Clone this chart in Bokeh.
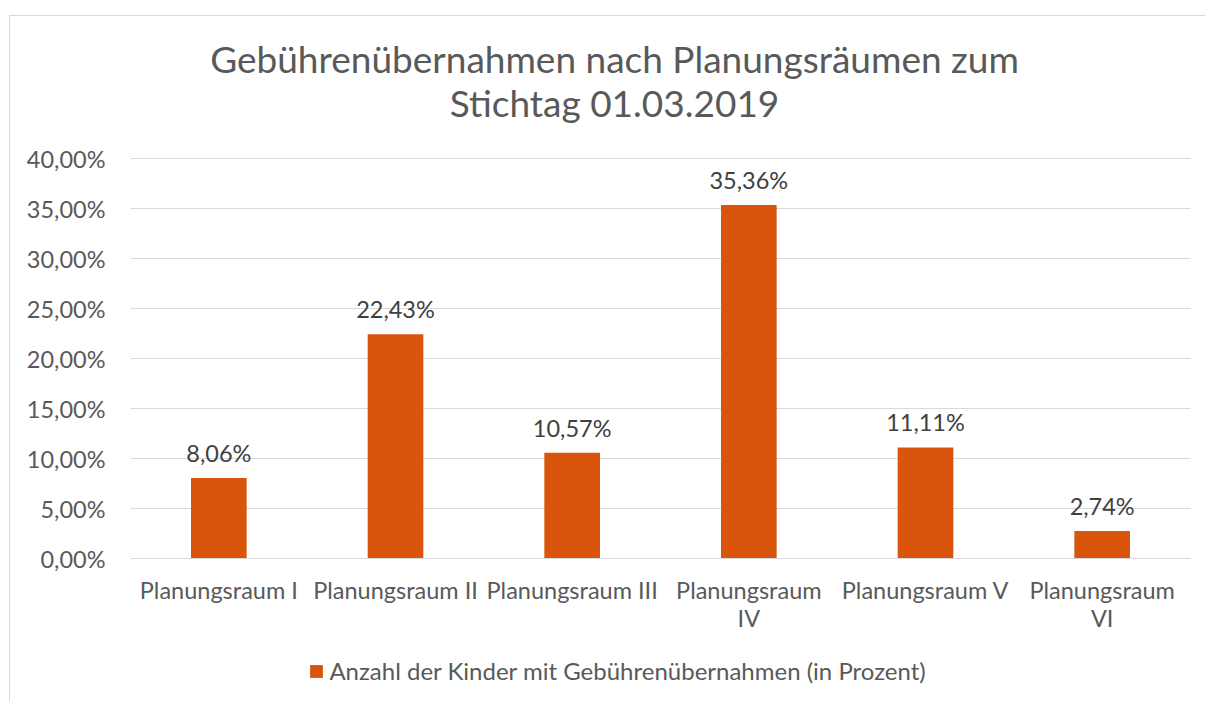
from bokeh.plotting import figure
from bokeh.models import (Range1d, FixedTicker, ColumnDataSource, LabelSet, Label,
                          Legend, LegendItem)
from bokeh.core.properties import value
from bokeh.embed import file_html
from bokeh.resources import INLINE

# ---- data ----
categories = ["Planungsraum I", "Planungsraum II", "Planungsraum III",
              "Planungsraum IV", "Planungsraum V", "Planungsraum VI"]
category_labels = ["Planungsraum I", "Planungsraum II", "Planungsraum III",
                   "Planungsraum\nIV", "Planungsraum V", "Planungsraum\nVI"]
values = [8.06, 22.43, 10.57, 35.36, 11.11, 2.74]
value_labels = ["8,06%", "22,43%", "10,57%", "35,36%", "11,11%", "2,74%"]
y_ticks = [0, 5, 10, 15, 20, 25, 30, 35, 40]
y_tick_labels = ["0,00%", "5,00%", "10,00%", "15,00%", "20,00%",
                 "25,00%", "30,00%", "35,00%", "40,00%"]
title_lines = ["Gebührenübernahmen nach Planungsräumen zum", "Stichtag 01.03.2019"]
series_name = "Anzahl der Kinder mit Gebührenübernahmen (in Prozent)"

FONT = "Lato"
FS = "23.5px"
TXT = "#595959"
DARK = "#404040"
GRID = "#D9D9D9"
BAR = "#D9550B"

W, H = 1196, 686

xpos = list(range(len(categories)))

# plot area spans the whole canvas height; the value axis 0..40 sits inside it
p = figure(x_range=Range1d(-0.5, len(categories) - 0.5), y_range=Range1d(-14.4, 54.2),
           width=W, height=H, output_backend="svg", toolbar_location=None,
           min_border_left=120, min_border_right=16,
           min_border_top=0, min_border_bottom=0)
p.styles = {"margin-left": "9px", "margin-top": "15px",
            "border-left": "1px solid #D9D9D9", "border-top": "1px solid #D9D9D9"}
p.outline_line_color = None
p.background_fill_color = "white"
p.border_fill_color = "white"

src = ColumnDataSource(dict(x=xpos, cat=categories, val=values, lab=value_labels))
r = p.vbar(x="x", top="val", bottom=0, width=0.315, source=src,
           fill_color=BAR, line_color=None)

labels = LabelSet(x="x", y="val", text="lab", source=src, y_offset=16,
                  text_align="center", text_baseline="alphabetic",
                  text_font=value(FONT), text_font_size=value(FS), text_color=DARK)
p.add_layout(labels)

# axes
p.xgrid.grid_line_color = None
p.ygrid.grid_line_color = GRID
p.ygrid.grid_line_width = 1
p.yaxis.ticker = FixedTicker(ticks=y_ticks)
p.yaxis.major_label_overrides = {t: l for t, l in zip(y_ticks, y_tick_labels)}
p.yaxis.axis_line_color = None
p.yaxis.major_tick_line_color = None
p.yaxis.minor_tick_line_color = None
p.yaxis.major_tick_out = 0
p.yaxis.major_tick_in = 0
p.yaxis.major_label_standoff = 25
p.yaxis.major_label_text_font = FONT
p.yaxis.major_label_text_font_size = FS
p.yaxis.major_label_text_color = TXT

xa = p.xaxis[0]
xa.fixed_location = 0
xa.ticker = FixedTicker(ticks=xpos)
xa.major_label_overrides = {t: l for t, l in zip(xpos, category_labels)}
xa.axis_line_color = GRID
xa.axis_line_width = 1
xa.major_tick_line_color = None
xa.minor_tick_line_color = None
xa.major_tick_out = 0
xa.major_tick_in = 0
xa.major_label_standoff = 17
xa.major_label_text_font = FONT
xa.major_label_text_font_size = FS
xa.major_label_text_color = TXT
xa.major_label_text_line_height = 1.0

# title
for line, yb in zip(title_lines, [644, 600.5]):
    p.add_layout(Label(x=484, y=yb, x_units="screen", y_units="screen", text=line,
                       text_align="center", text_baseline="alphabetic",
                       text_font=FONT, text_font_size="37px", text_color=TXT))

# legend
legend = Legend(items=[LegendItem(label=series_name, renderers=[r])],
                location=(178.4, 17), orientation="horizontal",
                border_line_color=None, background_fill_alpha=0,
                padding=0, margin=0, spacing=0,
                glyph_width=16, glyph_height=16, label_height=16, label_standoff=5,
                label_text_font=FONT, label_text_font_size="24px",
                label_text_color=TXT)
p.add_layout(legend, "center")

open("out.html", "w").write(file_html(p, INLINE))
